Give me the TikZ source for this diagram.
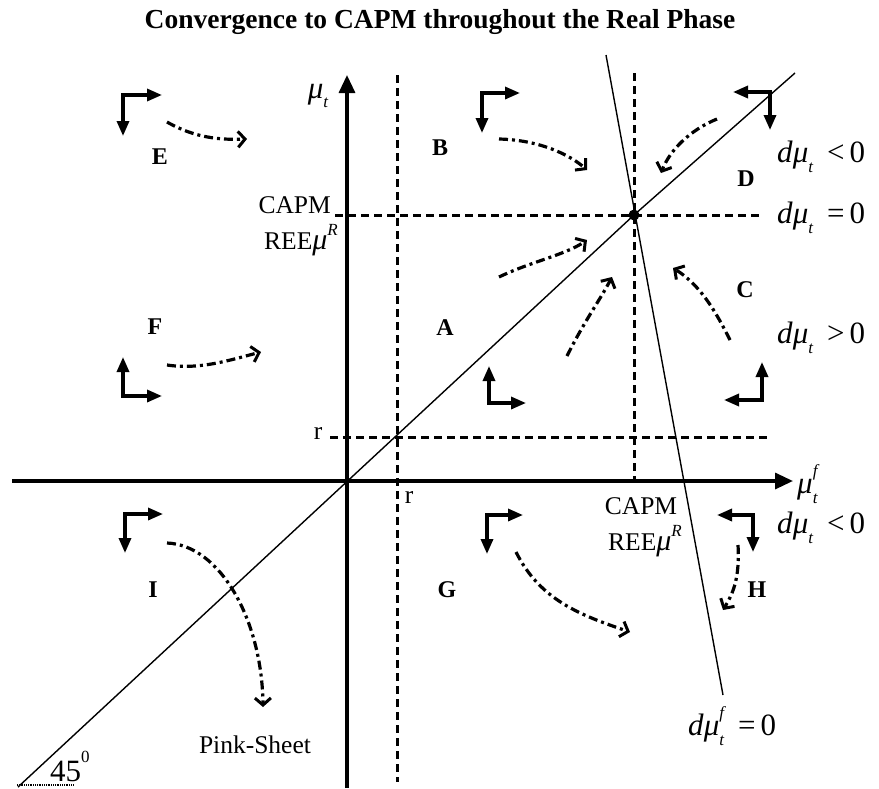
\documentclass[tikz,border=0pt]{standalone}
\usepackage{fontspec}
\setmainfont{Liberation Serif}
\usetikzlibrary{arrows.meta}
\newcommand{\fs}[1]{\fontsize{#1}{#1}\selectfont}
\newcommand{\mmu}{\textit{μ}}
\newcommand{\subt}{\raisebox{-0.32em}{\fs{17}\itshape t}}
\newcommand{\supf}{\rlap{\raisebox{0.55em}{\fs{17}\itshape f}}}
\newcommand{\dmut}{\textit{d}\mmu\subt}
\newcommand{\reemu}{REE{\fs{30}\mmu}\raisebox{0.55em}{\fs{17}\itshape R}}
\begin{document}
\begin{tikzpicture}[x=1pt,y=-1pt,
  axis/.style={line width=3.3pt, -{Triangle[length=18pt,width=16pt]}},
  dline/.style={line width=3pt, dash pattern=on 8pt off 5pt},
  slim/.style={line width=1.4pt},
  pair/.style={line width=3.3pt, {Triangle[length=15pt,width=12pt]}-{Triangle[length=15pt,width=12pt]}},
  flow/.style={line width=3.2pt, dash pattern=on 9pt off 4pt on 3pt off 4pt, -{Straight Barb[length=7pt,width=16pt,line width=3pt]}},
  reg/.style={font=\fs{24}\bfseries, inner sep=0pt},
  txt/.style={font=\fs{25.5}, inner sep=0pt},
  mth/.style={font=\fs{31}, anchor=west, inner sep=0pt},
]
\path[use as bounding box, fill=white] (0,0) rectangle (879,788);

% title
\node[font=\fs{27.5}\bfseries, inner sep=0pt] (title) at (440,22) {Convergence to CAPM throughout the Real Phase};

% key coordinates
\coordinate (xs) at (12,481);
\coordinate (xe) at (793,481);
\coordinate (ys) at (347,788);
\coordinate (ye) at (347,75);
\coordinate (rvT) at (397,75);
\coordinate (rvB) at (397,782);
\coordinate (rhL) at (330,437);
\coordinate (rhR) at (770,437);
\coordinate (chL) at (335,215);
\coordinate (chR) at (763,215);
\coordinate (cvT) at (634,73);
\coordinate (cvB) at (634,481);
\coordinate (dgA) at (18,787);
\coordinate (dgB) at (795,73);
\coordinate (stA) at (606,55);
\coordinate (stB) at (723,695);
\coordinate (eq) at (634,215);

% dashed guide lines
\draw[dline] (rvT) -- (rvB);
\draw[dline] (rhL) -- (rhR);
\draw[dline] (chL) -- (chR);
\draw[dline] (cvT) -- (cvB);

% axes
\draw[axis] (xs) -- (xe);
\draw[axis] (ys) -- (ye);

% thin lines
\draw[slim] (dgA) -- (eq) -- (dgB);
\draw[slim] (stA) -- (stB);
\fill (eq) circle (5.5pt);

% 45 degree mark
\coordinate (u1) at (17,785);
\coordinate (u2) at (73,785);
\draw[line width=1.5pt, dash pattern=on 1pt off 0.8pt] (u1) -- (u2);
\node[font=\fs{31}, inner sep=0pt, anchor=south west] (ang) at (50,782) {45\raisebox{0.62em}{\fs{17}0}};

% axis labels
\node[font=\fs{31}, inner sep=0pt] (ylab) at (318,96) {\mmu\subt};
\node[font=\fs{31}, inner sep=0pt, anchor=west] (xlab) at (797,484) {\mmu\supf\subt};

% r labels
\node[txt] (rl) at (318,433) {r};
\node[txt] (rb) at (409,497) {r};

% CAPM labels
\node[txt, anchor=east] (capl1) at (331,205) {CAPM};
\node[txt, anchor=east] (capl2) at (338,240) {\reemu};
\node[txt] (capb1) at (641,506) {CAPM};
\node[txt] (capb2) at (645,541) {\reemu};

% right labels
\node[mth] (m1) at (777,157) {\dmut\hspace{14pt}{<}\,0};
\node[mth] (m2) at (777,218) {\dmut\hspace{14pt}{=}\,0};
\node[mth] (m3) at (777,338) {\dmut\hspace{14pt}{>}\,0};
\node[mth] (m4) at (777,528) {\dmut\hspace{14pt}{<}\,0};
\node[mth] (m5) at (688,726) {\textit{d}\mmu\supf\subt\hspace{14pt}{=}\,0};

% region labels
\node[reg] (E) at (160,157) {E};
\node[reg] (B) at (440,148) {B};
\node[reg] (D) at (746,179) {D};
\node[reg] (F) at (155,327) {F};
\node[reg] (A) at (445,328) {A};
\node[reg] (C) at (745,290) {C};
\node[reg] (I) at (153,590) {I};
\node[reg] (G) at (447,590) {G};
\node[reg] (H) at (757,590) {H};
\node[txt] (pink) at (255,745) {Pink-Sheet};

% direction pairs
\coordinate (Ec) at (123,95);  \draw[pair] (162,95) -- (Ec) -- (123,136);
\coordinate (Bc) at (482,93);  \draw[pair] (520,93) -- (Bc) -- (482,133);
\coordinate (Dc) at (770,92);  \draw[pair] (733,92) -- (Dc) -- (770,130);
\coordinate (Fc) at (123,396); \draw[pair] (123,357) -- (Fc) -- (162,396);
\coordinate (Ac) at (489,403); \draw[pair] (489,366) -- (Ac) -- (526,403);
\coordinate (Cc) at (762,400); \draw[pair] (762,362) -- (Cc) -- (724,400);
\coordinate (Ic) at (125,514); \draw[pair] (163,514) -- (Ic) -- (125,553);
\coordinate (Gc) at (487,515); \draw[pair] (523,515) -- (Gc) -- (487,554);
\coordinate (Hc) at (753,515); \draw[pair] (717,515) -- (Hc) -- (753,552);

% flow arrows
\draw[flow] (167,122) .. controls (195,138) and (220,140) .. (247,139);
\draw[flow] (167,365) .. controls (200,370) and (230,360) .. (261,352);
\draw[flow] (499,139) .. controls (540,140) and (570,155) .. (587,170);
\draw[flow] (717,119) .. controls (690,130) and (670,150) .. (661,173);
\draw[flow] (499,277) .. controls (530,262) and (565,255) .. (587,240);
\draw[flow] (567,356) .. controls (585,320) and (600,300) .. (612,277);
\draw[flow] (730,340) .. controls (715,310) and (700,285) .. (673,268);
\draw[flow] (516,552) .. controls (540,600) and (580,615) .. (630,632);
\draw[flow] (738,545) .. controls (740,580) and (732,595) .. (723,610);
\draw[flow] (167,543) .. controls (220,545) and (262,620) .. (263,707);
\end{tikzpicture}
\end{document}
